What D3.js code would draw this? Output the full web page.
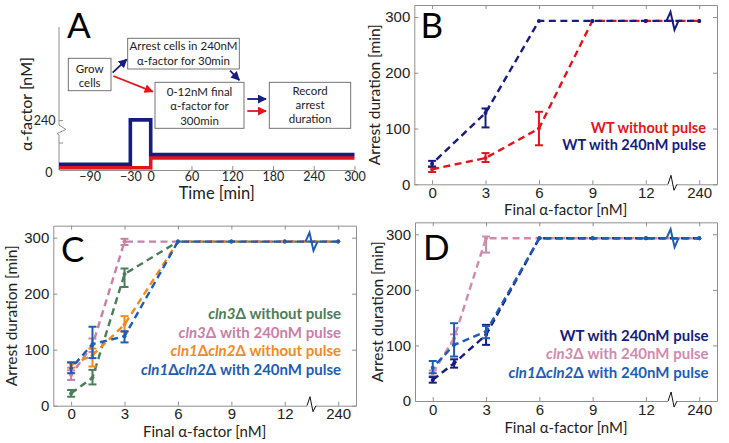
<!DOCTYPE html>
<html><head><meta charset="utf-8">
<script src="https://cdn.jsdelivr.net/npm/d3@7"></script>
<style>body{margin:0;background:#fff}svg{display:block;font-family:Lato,"Open Sans",sans-serif}</style>
</head><body><svg id="c" width="729" height="443"></svg>
<script>
// ---------- Panel A (schematic) ----------
const timeTicks=[-90,-30,0,60,120,180,240,300];
const pulseTime=[-135,-30,-30,0,0,300];
const pulseConc=[0,0,240,240,12,12];
const noPulseTime=[-135,0,0,300];
const noPulseConc=[0,0,12,12];
const concTicks=[0,240];

// ---------- Panel B ----------
const doseB=[0,3,6,9,12,240];
const wtNoPulseB=[27,47,100,293,293,293];
const wtNoPulseBLo=[22,40,70,293,293,293];
const wtNoPulseBHi=[31,56,130,293,293,293];
const wtPulseB=[37,128,293,293,293,293];
const wtPulseBLo=[32,102,293,293,293,293];
const wtPulseBHi=[42,136,293,293,293,293];

// ---------- Panel C ----------
const doseCD=[0,1.2,3,6,9,12,240];
const cln3NoPulseC=[22,50,235,293,293,293,293];
const cln3NoPulseCLo=[16,38,212,293,293,293,293];
const cln3NoPulseCHi=[28,64,245,293,293,293,293];
const cln3PulseC=[55,108,293,293,293,293,293];
const cln3PulseCLo=[46,96,287,293,293,293,293];
const cln3PulseCHi=[63,120,298,293,293,293,293];
const cln12NoPulseC=[73,90,145,293,293,293,293];
const cln12NoPulseCLo=[68,70,132,293,293,293,293];
const cln12NoPulseCHi=[78,102,160,293,293,293,293];
const cln12PulseC=[67,110,124,293,293,293,293];
const cln12PulseCLo=[58,85,113,293,293,293,293];
const cln12PulseCHi=[77,141,133,293,293,293,293];

// ---------- Panel D ----------
const wtPulseD=[38,68,119,293,293,293,293];
const wtPulseDLo=[33,60,101,293,293,293,293];
const wtPulseDHi=[43,75,137,293,293,293,293];
const cln3PulseD=[50,113,293,293,293,293,293];
const cln3PulseDLo=[45,103,267,293,293,293,293];
const cln3PulseDHi=[55,120,296,293,293,293,293];
const cln12PulseD=[60,101,125,293,293,293,293];
const cln12PulseDLo=[50,80,113,293,293,293,293];
const cln12PulseDHi=[72,140,135,293,293,293,293];

const doseTicks=[0,3,6,9,12,240];
const durTicks=[0,100,200,300];

const RED="#e2151d", NAVY="#161c80", GREEN="#4d7c5a", PINK="#c97fa7", ORANGE="#f4891e", BLUE="#1e5cb6";
const AXC="#8f8f8f", TXT="#222";

const svg=d3.select("#c");
const defs=svg.append("defs");
[["navy",NAVY],["red",RED]].forEach(([id,c])=>{
  defs.append("marker").attr("id","ah-"+id).attr("viewBox","0 0 10 10").attr("refX",9).attr("refY",5)
   .attr("markerWidth",5).attr("markerHeight",5).attr("orient","auto-start-reverse").attr("markerUnits","strokeWidth")
   .append("path").attr("d","M0,0 L10,5 L0,10 z").attr("fill",c);
});

// ===== Panel A =====
(function(){
  const g=svg.append("g");
  const x=d3.scaleLinear().domain([-135,300]).range([59,354.5]);
  const y=d3.scaleLinear().domain([0,12,240]).range([166,156.2,121.6]);
  const xa=g.append("g").attr("transform","translate(0,170)")
    .call(d3.axisBottom(x).tickValues(timeTicks).tickSizeInner(-4).tickSizeOuter(0).tickPadding(2.5));
  xa.select(".domain").attr("stroke",AXC);
  xa.selectAll(".tick line").attr("stroke",AXC);
  xa.selectAll("text").attr("fill",TXT).style("font-size","12.5px").style("font-family","Lato");
  g.append("path").attr("d","M59,27 L59,125 L66,129.5 L57,133.5 L59,135 L59,170").attr("fill","none").attr("stroke",AXC);
  g.append("line").attr("x1",59).attr("x2",63).attr("y1",y(240)-1).attr("y2",y(240)-1).attr("stroke",AXC);
  g.append("line").attr("x1",59).attr("x2",63).attr("y1",143).attr("y2",143).attr("stroke",AXC);
  g.append("text").attr("x",55.5).attr("y",y(240)+3.5).attr("text-anchor","end").attr("fill",TXT).style("font-size","12.5px").text(concTicks[1]);
  g.append("text").attr("x",52.5).attr("y",177).attr("text-anchor","end").attr("fill",TXT).style("font-size","12.5px").text(concTicks[0]);
  const line=d3.line().x(d=>x(d[0])).y(d=>y(d[1]));
  g.append("path").datum(noPulseTime.map((t,i)=>[t,noPulseConc[i]])).attr("d",line)
    .attr("transform","translate(0,1.7)").attr("fill","none").attr("stroke",RED).attr("stroke-width",3.6);
  g.append("path").datum(pulseTime.map((t,i)=>[t,pulseConc[i]])).attr("d",line)
    .attr("transform","translate(0,-1.7)").attr("fill","none").attr("stroke",NAVY).attr("stroke-width",3.6);
  g.append("text").attr("x",216.7).attr("y",199).attr("text-anchor","middle").attr("fill",TXT).style("font-size","16.5px").text("Time [min]");
  g.append("text").attr("transform","translate(32,104) rotate(-90)").attr("text-anchor","middle").attr("fill",TXT).style("font-size","16px").text("α-factor [nM]");
  g.append("text").attr("x",67).attr("y",38).attr("fill","#000").style("font-size","35px").text("A");
  const boxes=[
    {x:68.3,y:58.3,w:42.7,h:32.4,lines:["Grow","cells"],ys:[72.8,87]},
    {x:127.7,y:38.3,w:111.6,h:30.7,lines:["Arrest cells in 240nM","α-factor for 30min"],ys:[50,65]},
    {x:155,y:82.3,w:89,h:46,lines:["0-12nM final","α-factor for","300min"],ys:[96.3,110.2,124.6]},
    {x:269.3,y:82.3,w:81.4,h:46,lines:["Record","arrest","duration"],ys:[94.5,108.5,122.8]}
  ];
  boxes.forEach(b=>{
    g.append("rect").attr("x",b.x).attr("y",b.y).attr("width",b.w).attr("height",b.h).attr("fill","#fff").attr("stroke","#666").attr("stroke-width",0.9);
    b.lines.forEach((l,i)=>g.append("text").attr("x",b.x+b.w/2).attr("y",b.ys[i]).attr("text-anchor","middle").attr("fill",TXT).style("font-size","11.5px").text(l));
  });
  const arrows=[[112.7,72.7,126.7,59.3,"navy"],[113.3,76,152.7,91.7,"red"],[230,70.7,239.3,80,"navy"],[247.3,99,266,99,"navy"],[247.3,111,266,111,"red"]];
  arrows.forEach(a=>g.append("line").attr("x1",a[0]).attr("y1",a[1]).attr("x2",a[2]).attr("y2",a[3])
    .attr("stroke",a[4]==="navy"?NAVY:RED).attr("stroke-width",1.8).attr("marker-end","url(#ah-"+a[4]+")"));
})();

// ===== Panels B, C, D =====
function pos(d){return d===240?15:d;}
function panel(cfg){
  const g=svg.append("g");
  const x=d3.scaleLinear().domain([-1,16]).range([cfg.x0,cfg.x1]);
  const y=d3.scaleLinear().domain([0,321.5]).range([cfg.y0,cfg.y0-321.5*cfg.k]);
  const yTop=y(321.5);
  const style=(sel)=>{sel.select(".domain").attr("stroke",AXC);sel.selectAll(".tick line").attr("stroke",AXC);
    sel.selectAll("text").attr("fill",TXT).style("font-size","15px");};
  const xb=g.append("g").attr("transform",`translate(0,${cfg.y0})`)
    .call(d3.axisBottom(x).tickValues(doseTicks.map(pos)).tickFormat((d,i)=>doseTicks[i]).tickSizeInner(-4).tickSizeOuter(0).tickPadding(3));
  style(xb);
  const xt=g.append("g").attr("transform",`translate(0,${yTop})`)
    .call(d3.axisTop(x).tickValues(doseTicks.map(pos)).tickFormat("").tickSizeInner(-4).tickSizeOuter(0));
  style(xt);
  const yl=g.append("g").attr("transform",`translate(${cfg.x0},0)`)
    .call(d3.axisLeft(y).tickValues(durTicks).tickSizeInner(-4).tickSizeOuter(0).tickPadding(4));
  style(yl);
  const yr=g.append("g").attr("transform",`translate(${cfg.x1},0)`)
    .call(d3.axisRight(y).tickValues(durTicks).tickFormat("").tickSizeInner(-4).tickSizeOuter(0));
  style(yr);
  const bx=x(13.5);
  g.append("rect").attr("x",bx-4.5).attr("y",cfg.y0-1).attr("width",9).attr("height",2).attr("fill","#fff");
  g.append("path").attr("d",`M${bx-4.5},${cfg.y0} L${bx-1.5},${cfg.y0-9} L${bx+1.5},${cfg.y0+6} L${bx+4.5},${cfg.y0}`)
    .attr("fill","none").attr("stroke","#111").attr("stroke-width",1);
  const line=d3.line().x(d=>x(pos(d.x))).y(d=>y(d.v));
  cfg.series.forEach((s)=>{
    const pts=cfg.dose.map((d,i)=>({x:d,v:s.v[i],lo:s.lo[i],hi:s.hi[i]}));
    g.append("path").datum(pts).attr("d",line).attr("fill","none").attr("stroke",s.c).attr("stroke-width",2.4)
      .attr("stroke-dasharray","7,4.5").attr("stroke-dashoffset",s.off||0);
    pts.filter(p=>p.hi!==p.lo).forEach(p=>{
      const px=x(pos(p.x));
      g.append("line").attr("x1",px).attr("x2",px).attr("y1",y(p.lo)).attr("y2",y(p.hi)).attr("stroke",s.c).attr("stroke-width",2);
      [p.lo,p.hi].forEach(e=>g.append("line").attr("x1",px-4).attr("x2",px+4).attr("y1",y(e)).attr("y2",y(e)).attr("stroke",s.c).attr("stroke-width",2));
    });
    g.selectAll(null).data(pts).enter().append("circle").attr("cx",p=>x(pos(p.x))).attr("cy",p=>y(p.v)).attr("r",2).attr("fill",s.c);
  });
  const py=y(293);
  g.append("path").attr("d",`M${bx-6},${py} L${bx-2},${py-9} L${bx+2},${py+9} L${bx+6},${py}`)
    .attr("fill","none").attr("stroke",cfg.sq).attr("stroke-width",2);
  g.append("text").attr("x",cfg.lx).attr("y",cfg.ly).attr("fill","#000").style("font-size","35px").text(cfg.letter);
  g.append("text").attr("x",(cfg.x0+cfg.x1)/2).attr("y",cfg.y0+cfg.xlDy).attr("text-anchor","middle").attr("fill",TXT).style("font-size","15px").text("Final α-factor [nM]");
  g.append("text").attr("transform",`translate(${cfg.ylx},${(cfg.y0+yTop)/2}) rotate(-90)`).attr("text-anchor","middle").attr("fill",TXT).style("font-size","15.5px").text("Arrest duration [min]");
  cfg.legend.forEach((L,i)=>{
    const t=g.append("text").attr("x",cfg.legX).attr("y",cfg.legY+i*cfg.legDy).attr("text-anchor","end")
      .attr("fill",L.c).style("font-size",cfg.legFs).style("font-weight","bold");
    L.parts.forEach(p=>t.append("tspan").style("font-style",p[1]?"italic":"normal").text(p[0]));
  });
}

panel({x0:414.3,x1:717,y0:184.3,k:0.5577,dose:doseB,letter:"B",lx:420.5,ly:38.3,ylx:380,sq:NAVY,xlDy:31,
  legX:706,legY:133,legDy:16.8,legFs:"14.5px",
  series:[
    {v:wtNoPulseB,lo:wtNoPulseBLo,hi:wtNoPulseBHi,c:RED,off:0},
    {v:wtPulseB,lo:wtPulseBLo,hi:wtPulseBHi,c:NAVY,off:5.5}],
  legend:[{c:RED,parts:[["WT without pulse",0]]},{c:NAVY,parts:[["WT with 240nM pulse",0]]}]});

panel({x0:53.3,x1:356,y0:405.7,k:0.56,dose:doseCD,letter:"C",lx:61,ly:261.7,ylx:17,sq:BLUE,xlDy:31,
  legX:341,legY:319,legDy:18.5,legFs:"15px",
  series:[
    {v:cln3NoPulseC,lo:cln3NoPulseCLo,hi:cln3NoPulseCHi,c:GREEN,off:0},
    {v:cln3PulseC,lo:cln3PulseCLo,hi:cln3PulseCHi,c:PINK,off:3},
    {v:cln12NoPulseC,lo:cln12NoPulseCLo,hi:cln12NoPulseCHi,c:ORANGE,off:0},
    {v:cln12PulseC,lo:cln12PulseCLo,hi:cln12PulseCHi,c:BLUE,off:6}],
  legend:[
    {c:GREEN,parts:[["cln3",1],["Δ",0],[" without pulse",0]]},
    {c:PINK,parts:[["cln3",1],["Δ",0],[" with 240nM pulse",0]]},
    {c:ORANGE,parts:[["cln1",1],["Δ",0],["cln2",1],["Δ",0],[" without pulse",0]]},
    {c:BLUE,parts:[["cln1",1],["Δ",0],["cln2",1],["Δ",0],[" with 240nM pulse",0]]}]});

panel({x0:415,x1:717,y0:401,k:0.5557,dose:doseCD,letter:"D",lx:423,ly:260,ylx:383,sq:BLUE,xlDy:31.5,
  legX:708.5,legY:341,legDy:18.3,legFs:"15px",
  series:[
    {v:cln3PulseD,lo:cln3PulseDLo,hi:cln3PulseDHi,c:"#d18aae",off:0},
    {v:wtPulseD,lo:wtPulseDLo,hi:wtPulseDHi,c:NAVY,off:0},
    {v:cln12PulseD,lo:cln12PulseDLo,hi:cln12PulseDHi,c:BLUE,off:5.5}],
  legend:[
    {c:NAVY,parts:[["WT with 240nM pulse",0]]},
    {c:"#d18aae",parts:[["cln3",1],["Δ",0],[" with 240nM pulse",0]]},
    {c:BLUE,parts:[["cln1",1],["Δ",0],["cln2",1],["Δ",0],[" with 240nM pulse",0]]}]});
</script></body></html>
